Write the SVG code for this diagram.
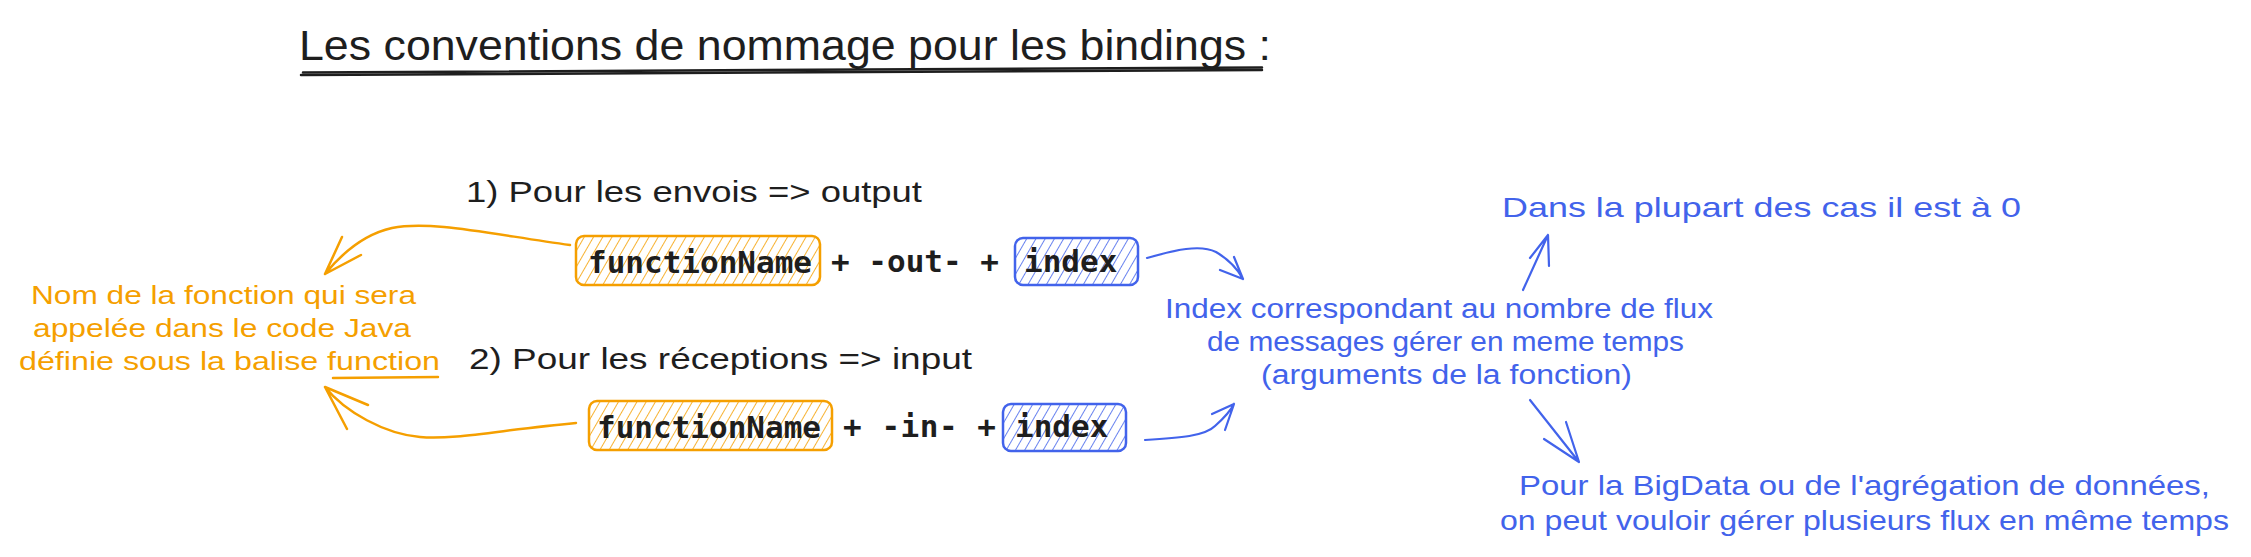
<svg xmlns="http://www.w3.org/2000/svg" width="2251" height="557" viewBox="0 0 2251 557">
<style>
.hand{font-family:"Liberation Sans","Noto Sans",sans-serif}
.mono{font-family:"DejaVu Sans Mono","Liberation Mono",monospace;font-size:31px;font-weight:bold;fill:#1e1e1e}
.blk{fill:#1e1e1e}
.org{fill:#f59f00}
.blu{fill:#4263eb}
.co{fill:none;stroke:#f59f00;stroke-width:2.5;stroke-linecap:round;stroke-linejoin:round}
.cb{fill:none;stroke:#4263eb;stroke-width:2.2;stroke-linecap:round;stroke-linejoin:round}
.ck{fill:none;stroke:#1e1e1e;stroke-width:2.5;stroke-linecap:round}
</style>
<defs>
<pattern id="hOrange" patternUnits="userSpaceOnUse" width="8" height="9" patternTransform="rotate(30)">
<line x1="0" y1="-1" x2="0" y2="10" stroke="#f59f00" stroke-width="1.6"/>
</pattern>
<pattern id="hBlue" patternUnits="userSpaceOnUse" width="8" height="9" patternTransform="rotate(30)">
<line x1="0" y1="-1" x2="0" y2="10" stroke="#4263eb" stroke-width="1.6"/>
</pattern>
</defs>
<rect width="2251" height="557" fill="#ffffff"/>

<g id="title">
<text class="hand blk" x="299" y="60" font-size="42" textLength="972" lengthAdjust="spacingAndGlyphs">Les conventions de nommage pour les bindings :</text>
<path class="ck" d="M301,75 L1262,70" stroke-width="3"/>
<path class="ck" d="M303,72.5 L1262,67.5" stroke-width="1.5"/>
</g>

<g id="label-output">
<text class="hand blk" x="466" y="202" font-size="30" textLength="456" lengthAdjust="spacingAndGlyphs">1) Pour les envois =&gt; output</text>
</g>

<g id="row1-functionName">
<rect x="576" y="236" width="244" height="49" rx="8" fill="url(#hOrange)" stroke="#f59f00" stroke-width="2.5"/>
<text class="mono" x="588" y="273">functionName</text>
</g>
<g id="row1-op">
<text class="mono" x="831" y="272">+ -out- +</text>
</g>
<g id="row1-index">
<rect x="1015" y="238" width="123" height="47" rx="8" fill="url(#hBlue)" stroke="#4263eb" stroke-width="2.5"/>
<text class="mono" x="1024" y="272">index</text>
</g>

<g id="label-input">
<text class="hand blk" x="469" y="369" font-size="30" textLength="503" lengthAdjust="spacingAndGlyphs">2) Pour les réceptions =&gt; input</text>
</g>

<g id="row2-functionName">
<rect x="589" y="401" width="243" height="49" rx="8" fill="url(#hOrange)" stroke="#f59f00" stroke-width="2.5"/>
<text class="mono" x="597" y="438">functionName</text>
</g>
<g id="row2-op">
<text class="mono" x="843" y="437" textLength="153">+ -in- +</text>
</g>
<g id="row2-index">
<rect x="1003" y="404" width="123" height="47" rx="8" fill="url(#hBlue)" stroke="#4263eb" stroke-width="2.5"/>
<text class="mono" x="1015" y="437">index</text>
</g>

<g id="note-function">
<text class="hand org" x="31" y="304" font-size="26" textLength="385" lengthAdjust="spacingAndGlyphs">Nom de la fonction qui sera</text>
<text class="hand org" x="33" y="337" font-size="26" textLength="378" lengthAdjust="spacingAndGlyphs">appelée dans le code Java</text>
<text class="hand org" x="19" y="370" font-size="26" textLength="421" lengthAdjust="spacingAndGlyphs">définie sous la balise function</text>
<path class="co" d="M333,378 L438,377" stroke-width="2"/>
</g>

<g id="note-index">
<text class="hand blu" x="1165" y="318" font-size="27" textLength="548" lengthAdjust="spacingAndGlyphs">Index correspondant au nombre de flux</text>
<text class="hand blu" x="1207" y="351" font-size="27" textLength="477" lengthAdjust="spacingAndGlyphs">de messages gérer en meme temps</text>
<text class="hand blu" x="1261" y="384" font-size="27" textLength="371" lengthAdjust="spacingAndGlyphs">(arguments de la fonction)</text>
</g>

<g id="note-zero">
<text class="hand blu" x="1502" y="217" font-size="28" textLength="519" lengthAdjust="spacingAndGlyphs">Dans la plupart des cas il est à 0</text>
</g>

<g id="note-bigdata">
<text class="hand blu" x="1519" y="495" font-size="28" textLength="691" lengthAdjust="spacingAndGlyphs">Pour la BigData ou de l'agrégation de données,</text>
<text class="hand blu" x="1500" y="530" font-size="28" textLength="729" lengthAdjust="spacingAndGlyphs">on peut vouloir gérer plusieurs flux en même temps</text>
</g>

<g id="connectors">
<path class="co" d="M570,245 C490,234 430,220 392,228 C365,234 343,252 325,274 M325,274 L342,237 M325,274 L361,255"/>
<path class="co" d="M576,423 C500,430 455,440 420,437 C385,434 345,412 325,387 M325,387 L368,405 M325,387 L347,429"/>
<path class="cb" d="M1147,258 C1175,250 1200,244 1216,252 C1228,259 1237,268 1243,279 M1243,279 L1234,257 M1243,279 L1220,270"/>
<path class="cb" d="M1145,440 C1180,438 1205,436 1215,426 C1224,418 1230,412 1234,404 M1234,404 L1212,414 M1234,404 L1225,430"/>
<path class="cb" d="M1523,290 L1548,235 M1548,235 L1530,258 M1548,235 L1549,266"/>
<path class="cb" d="M1530,400 L1579,462 M1579,462 L1544,439 M1579,462 L1566,422"/>
</g>
</svg>
